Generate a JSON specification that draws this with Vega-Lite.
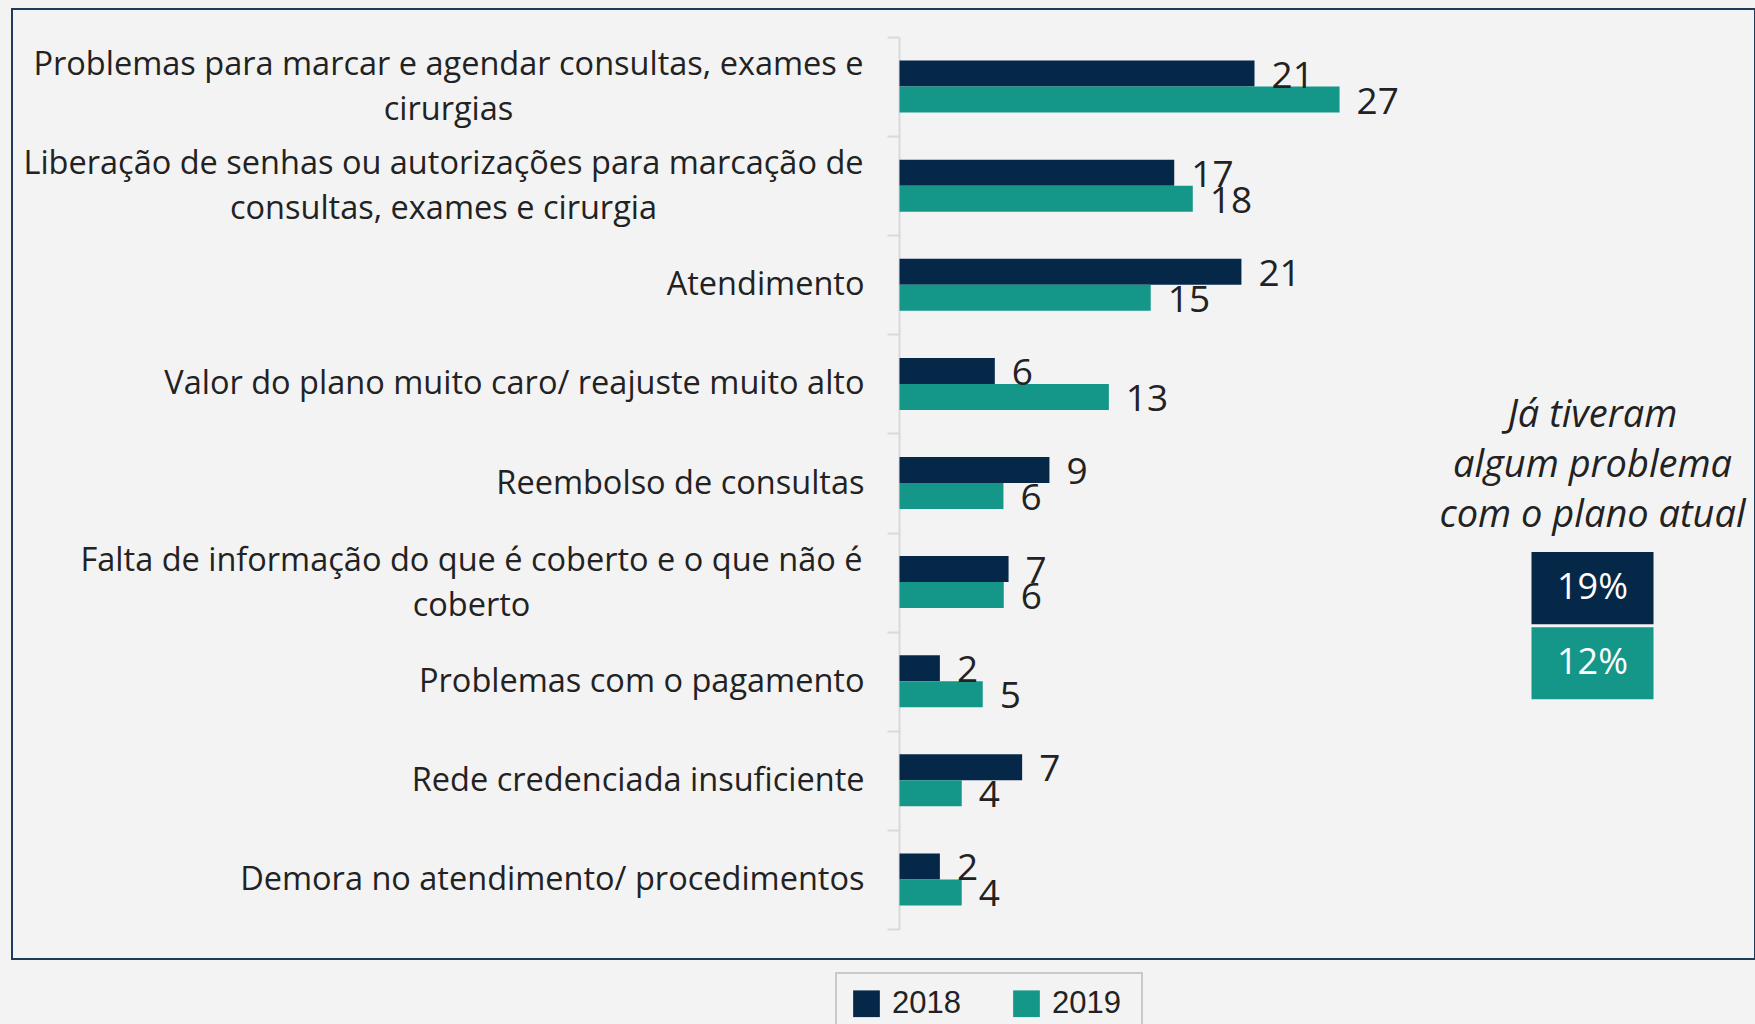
{
  "$schema": "https://vega.github.io/schema/vega-lite/v6.json",
  "width": 1743,
  "height": 950,
  "autosize": {"type": "none"},
  "padding": {"left": 12, "top": 9, "right": 0, "bottom": 65},
  "background": "#f3f3f3",
  "config": {
    "view": {"stroke": "#1F3B5C", "strokeWidth": 2},
    "font": "Open Sans",
    "text": {"font": "Open Sans"}
  },
  "layer": [
    {
      "data": {
        "values": [
          {"problema": "Problemas para marcar e agendar consultas, exames e cirurgias", "ano": "2018", "valor": 21.45},
          {"problema": "Problemas para marcar e agendar consultas, exames e cirurgias", "ano": "2019", "valor": 26.59},
          {"problema": "Liberação de senhas ou autorizações para marcação de consultas, exames e cirurgia", "ano": "2018", "valor": 16.6},
          {"problema": "Liberação de senhas ou autorizações para marcação de consultas, exames e cirurgia", "ano": "2019", "valor": 17.72},
          {"problema": "Atendimento", "ano": "2018", "valor": 20.66},
          {"problema": "Atendimento", "ano": "2019", "valor": 15.18},
          {"problema": "Valor do plano muito caro/ reajuste muito alto", "ano": "2018", "valor": 5.76},
          {"problema": "Valor do plano muito caro/ reajuste muito alto", "ano": "2019", "valor": 12.65},
          {"problema": "Reembolso de consultas", "ano": "2018", "valor": 9.06},
          {"problema": "Reembolso de consultas", "ano": "2019", "valor": 6.28},
          {"problema": "Falta de informação do que é coberto e o que não é coberto", "ano": "2018", "valor": 6.59},
          {"problema": "Falta de informação do que é coberto e o que não é coberto", "ano": "2019", "valor": 6.3},
          {"problema": "Problemas com o pagamento", "ano": "2018", "valor": 2.44},
          {"problema": "Problemas com o pagamento", "ano": "2019", "valor": 5.03},
          {"problema": "Rede credenciada insuficiente", "ano": "2018", "valor": 7.41},
          {"problema": "Rede credenciada insuficiente", "ano": "2019", "valor": 3.76},
          {"problema": "Demora no atendimento/ procedimentos", "ano": "2018", "valor": 2.44},
          {"problema": "Demora no atendimento/ procedimentos", "ano": "2019", "valor": 3.76}
        ]
      },
      "encoding": {
        "y": {
          "field": "problema",
          "type": "nominal",
          "sort": null,
          "scale": {"range": [28, 920], "paddingInner": 0, "paddingOuter": 0},
          "axis": {
            "title": null,
            "offset": -887,
            "grid": false,
            "domainColor": "#d9d9d9",
            "domainWidth": 2,
            "tickColor": "#d9d9d9",
            "tickWidth": 2,
            "tickSize": 12,
            "tickBand": "extent",
            "labelFont": "Open Sans",
            "labelFontSize": 32.5,
            "labelColor": "#222222",
            "labelLimit": 1000,
            "labelLineHeight": 45,
            "labelBaseline": "middle",
            "labelPadding": {
              "condition": [
                {"test": "datum.value === 'Problemas para marcar e agendar consultas, exames e cirurgias'", "value": 439},
                {"test": "datum.value === 'Liberação de senhas ou autorizações para marcação de consultas, exames e cirurgia'", "value": 444},
                {"test": "datum.value === 'Falta de informação do que é coberto e o que não é coberto'", "value": 416}
              ],
              "value": 23
            },
            "labelOffset": {
              "condition": {"test": "datum.value === 'Problemas para marcar e agendar consultas, exames e cirurgias' || datum.value === 'Liberação de senhas ou autorizações para marcação de consultas, exames e cirurgia' || datum.value === 'Falta de informação do que é coberto e o que não é coberto'", "value": -22},
              "value": 0
            },
            "labelAlign": {
              "condition": {"test": "datum.value === 'Problemas para marcar e agendar consultas, exames e cirurgias' || datum.value === 'Liberação de senhas ou autorizações para marcação de consultas, exames e cirurgia' || datum.value === 'Falta de informação do que é coberto e o que não é coberto'", "value": "center"},
              "value": "right"
            },
            "labelExpr": "datum.value === 'Problemas para marcar e agendar consultas, exames e cirurgias' ? ['Problemas para marcar e agendar consultas, exames e', 'cirurgias'] : datum.value === 'Liberação de senhas ou autorizações para marcação de consultas, exames e cirurgia' ? ['Liberação de senhas ou autorizações para marcação de', 'consultas, exames e cirurgia'] : datum.value === 'Falta de informação do que é coberto e o que não é coberto' ? ['Falta de informação do que é coberto e o que não é', 'coberto'] : datum.label"
          }
        },
        "yOffset": {
          "field": "ano",
          "type": "nominal",
          "scale": {"paddingInner": 0, "paddingOuter": 0.906}
        },
        "x": {
          "field": "valor",
          "type": "quantitative",
          "scale": {"domain": [0, 30], "range": [887.5, 1384], "nice": false, "zero": true},
          "axis": null
        }
      },
      "layer": [
        {
          "mark": {"type": "bar"},
          "encoding": {
            "color": {
              "field": "ano",
              "type": "nominal",
              "scale": {"domain": ["2018", "2019"], "range": ["#052849", "#149688"]},
              "legend": {
                "orient": "none",
                "legendX": 824,
                "legendY": 964,
                "direction": "horizontal",
                "title": " ",
                "titleOrient": "right",
                "titlePadding": 6,
                "titleFontSize": 10,
                "symbolType": "square",
                "symbolSize": 713,
                "symbolStrokeWidth": 0,
                "symbolOpacity": 1,
                "labelFont": "Liberation Sans",
                "labelFontSize": 31,
                "labelColor": "#222222",
                "labelOffset": 10,
                "columnPadding": 50,
                "padding": 15,
                "strokeColor": "#c9c9c9",
                "fillColor": "#f3f3f3",
                "encode": {"legend": {"update": {"strokeWidth": {"value": 2}}}}
              }
            }
          }
        },
        {
          "mark": {"type": "text", "align": "left", "baseline": "middle", "dx": 17, "dy": 3, "fontSize": 37, "color": "#222222"},
          "encoding": {
            "text": {"field": "valor", "type": "quantitative", "format": ".0f"}
          }
        }
      ]
    },
    {
      "data": {
        "values": [
          {"grupo": "Já tiveram algum problema com o plano atual", "ano": "2018", "pct": "19%"},
          {"grupo": "Já tiveram algum problema com o plano atual", "ano": "2019", "pct": "12%"}
        ]
      },
      "encoding": {
        "y": {
          "field": "ano",
          "type": "nominal",
          "scale": {"range": [543, 690.3], "paddingInner": 0.04, "paddingOuter": 0},
          "axis": null
        },
        "x": {
          "field": "grupo",
          "type": "nominal",
          "scale": {"range": [1519.5, 1641.5], "paddingInner": 0, "paddingOuter": 0},
          "axis": null
        }
      },
      "layer": [
        {
          "mark": {"type": "rect"},
          "encoding": {
            "color": {"field": "ano", "type": "nominal"}
          }
        },
        {
          "mark": {"type": "text", "align": "center", "baseline": "middle", "fontSize": 36, "color": "#ffffff"},
          "encoding": {
            "text": {"field": "pct", "type": "nominal"}
          }
        },
        {
          "transform": [{"filter": "datum.ano === '2018'"}],
          "mark": {"type": "text", "align": "center", "baseline": "alphabetic", "dy": -161, "fontSize": 38, "fontStyle": "italic", "lineHeight": 50, "color": "#222222", "text": ["Já tiveram", "algum problema", "com o plano atual"]},
          "encoding": {}
        }
      ]
    }
  ],
  "resolve": {"scale": {"x": "independent", "y": "independent"}}
}
